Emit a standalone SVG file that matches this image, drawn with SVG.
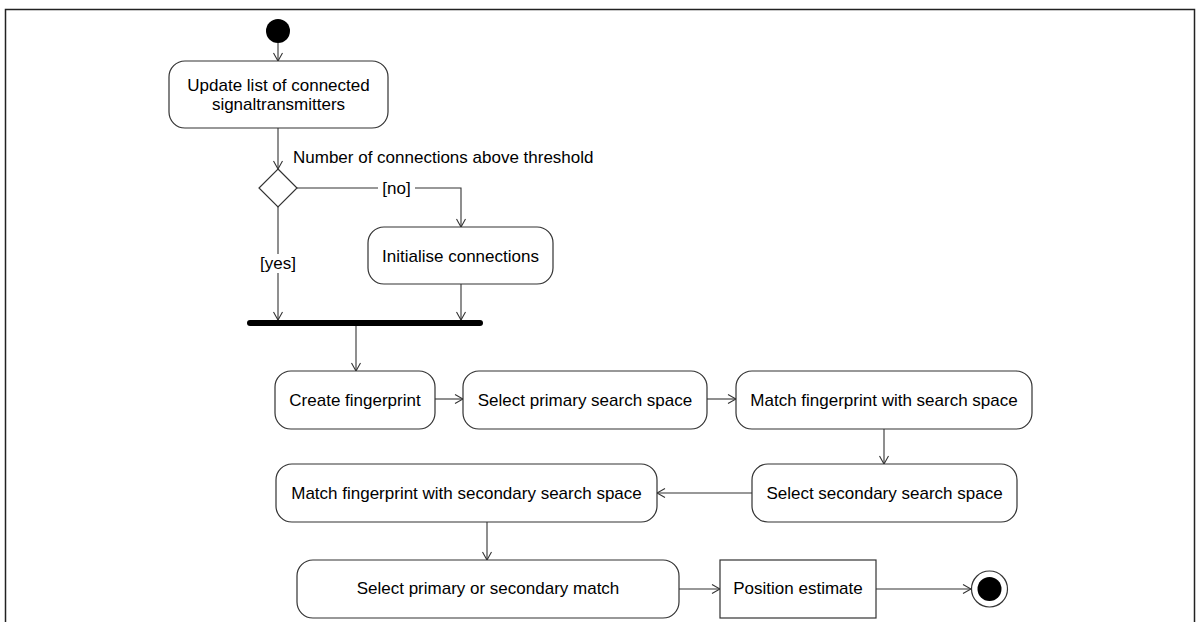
<svg xmlns="http://www.w3.org/2000/svg" width="1196" height="622" viewBox="0 0 1196 622">
  <style>
    .act { fill: #fff; stroke: #333; stroke-width: 1.2; }
    .lbl { font-family: "Liberation Sans", Arial, sans-serif; font-size: 17px; fill: #000; text-anchor: middle; }
    .lbl-l { font-family: "Liberation Sans", Arial, sans-serif; font-size: 17px; fill: #000; }
    .edge { fill: none; stroke: #333; stroke-width: 1.1; }
  </style>
  <defs>
    <marker id="arrow" viewBox="0 0 10 10" refX="9" refY="5" markerWidth="10" markerHeight="10" markerUnits="userSpaceOnUse" orient="auto">
      <path d="M1,0.5 L9,5 L1,9.5" fill="none" stroke="#333" stroke-width="1.1"/>
    </marker>
  </defs>

  <rect width="1196" height="622" fill="#fff"/>
  <!-- diagram frame -->
  <rect x="5.5" y="9.5" width="1189" height="700" fill="none" stroke="#222" stroke-width="1.5"/>

  <!-- connectors -->
  <g id="connectors">
    <line class="edge" x1="278" y1="43" x2="278" y2="61" marker-end="url(#arrow)"/>
    <line class="edge" x1="278" y1="128" x2="278" y2="169" marker-end="url(#arrow)"/>
    <line class="edge" x1="278" y1="207" x2="278" y2="320" marker-end="url(#arrow)"/>
    <polyline class="edge" points="297,188 461,188 461,227" marker-end="url(#arrow)"/>
    <line class="edge" x1="461" y1="284" x2="461" y2="320" marker-end="url(#arrow)"/>
    <line class="edge" x1="356" y1="326" x2="356" y2="371" marker-end="url(#arrow)"/>
    <line class="edge" x1="435" y1="399" x2="463" y2="399" marker-end="url(#arrow)"/>
    <line class="edge" x1="707" y1="399" x2="736" y2="399" marker-end="url(#arrow)"/>
    <line class="edge" x1="884" y1="429" x2="884" y2="464" marker-end="url(#arrow)"/>
    <line class="edge" x1="752" y1="493" x2="657" y2="493" marker-end="url(#arrow)"/>
    <line class="edge" x1="487" y1="522" x2="487" y2="560" marker-end="url(#arrow)"/>
    <line class="edge" x1="679" y1="589" x2="720" y2="589" marker-end="url(#arrow)"/>
    <line class="edge" x1="876" y1="589" x2="971" y2="589" marker-end="url(#arrow)"/>
    <!-- guard labels -->
    <rect x="378" y="179" width="37" height="18" fill="#fff"/>
    <text class="lbl" x="396.5" y="194">[no]</text>
    <rect x="258" y="254" width="40" height="19" fill="#fff"/>
    <text class="lbl" x="278" y="269">[yes]</text>
    <text class="lbl-l" x="293" y="163">Number of connections above threshold</text>
  </g>

  <g id="start">
    <circle cx="278" cy="31" r="12" fill="#000"/>
  </g>

  <g id="update">
    <rect class="act" x="169" y="61" width="219" height="67" rx="16"/>
    <text class="lbl" x="278.5" y="91">Update list of connected</text>
    <text class="lbl" x="278.5" y="110">signaltransmitters</text>
  </g>

  <g id="decision">
    <polygon points="278,169 297,188 278,207 259,188" fill="#fff" stroke="#333" stroke-width="1.2"/>
  </g>

  <g id="initialise">
    <rect class="act" x="368" y="227" width="185" height="57" rx="16"/>
    <text class="lbl" x="460.5" y="262">Initialise connections</text>
  </g>

  <g id="join">
    <line x1="250" y1="323" x2="480" y2="323" stroke="#000" stroke-width="6" stroke-linecap="round"/>
  </g>

  <g id="create-fingerprint">
    <rect class="act" x="275" y="371" width="160" height="58" rx="16"/>
    <text class="lbl" x="355" y="406">Create fingerprint</text>
  </g>

  <g id="select-primary">
    <rect class="act" x="463" y="371" width="244" height="58" rx="16"/>
    <text class="lbl" x="585" y="406">Select primary search space</text>
  </g>

  <g id="match-primary">
    <rect class="act" x="736" y="371" width="296" height="58" rx="16"/>
    <text class="lbl" x="884" y="406">Match fingerprint with search space</text>
  </g>

  <g id="select-secondary">
    <rect class="act" x="752" y="464" width="265" height="58" rx="16"/>
    <text class="lbl" x="884.5" y="499">Select secondary search space</text>
  </g>

  <g id="match-secondary">
    <rect class="act" x="276" y="464" width="381" height="58" rx="16"/>
    <text class="lbl" x="466.5" y="499">Match fingerprint with secondary search space</text>
  </g>

  <g id="select-match">
    <rect class="act" x="297" y="560" width="382" height="58" rx="16"/>
    <text class="lbl" x="488" y="594">Select primary or secondary match</text>
  </g>

  <g id="position-estimate">
    <rect class="act" x="720" y="560" width="156" height="58"/>
    <text class="lbl" x="798" y="594">Position estimate</text>
  </g>

  <g id="end">
    <circle cx="989.5" cy="589" r="18" fill="#fff" stroke="#333" stroke-width="1.2"/>
    <circle cx="989.5" cy="589" r="12" fill="#000"/>
  </g>
</svg>
